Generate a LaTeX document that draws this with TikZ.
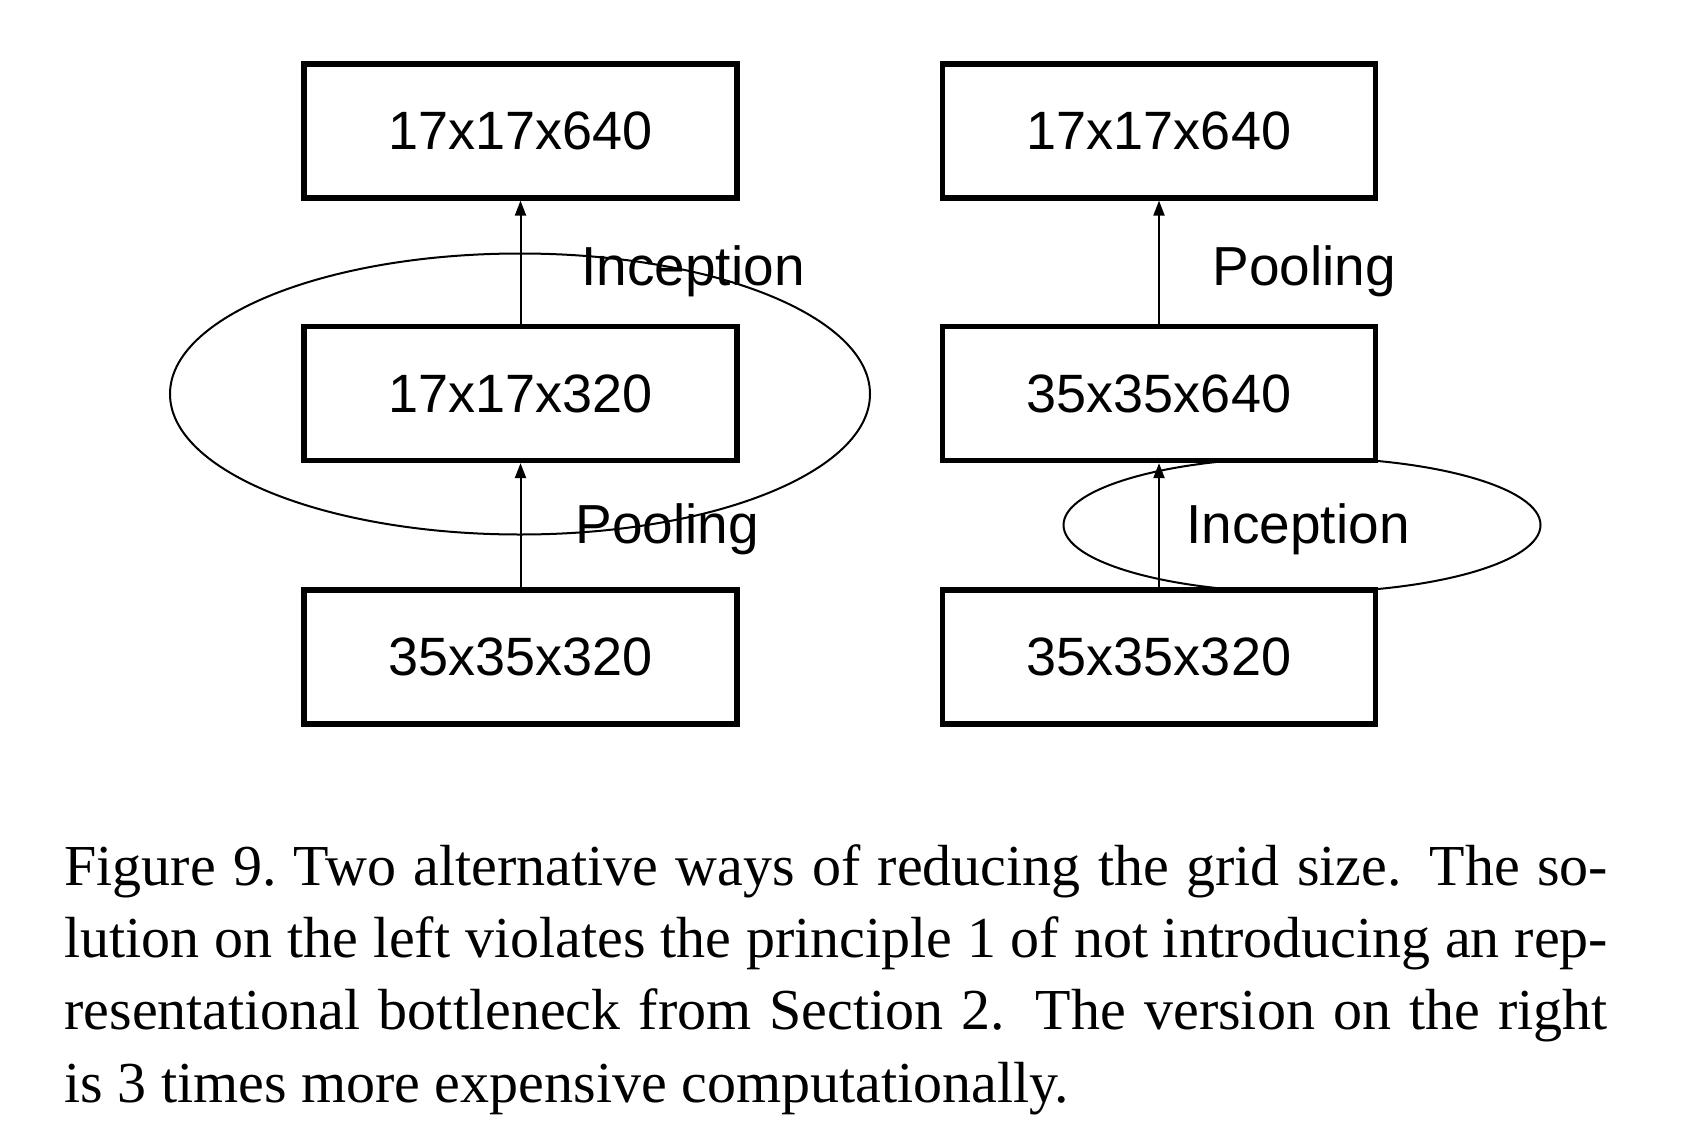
\documentclass[tikz,border=0pt]{standalone}
\usepackage{fontspec}
\setmainfont{Liberation Serif}
\newfontfamily\boxfont{Liberation Sans}
\usetikzlibrary{shapes.geometric,arrows.meta}
\begin{document}
\begin{tikzpicture}[x=0.5pt,y=-0.5pt,
  blk/.style={draw,line width=2.6pt,fill=white,minimum width=216.5pt,minimum height=67pt,inner sep=0pt,
    font=\boxfont\fontsize{27}{33}\selectfont},
  ring/.style={draw,ellipse,line width=1pt,inner sep=0pt},
  lbl/.style={inner sep=0pt,anchor=base west,font=\boxfont\fontsize{27.5}{33}\selectfont},
  conn/.style={line width=1pt,-{Triangle[length=7.5pt,width=5.5pt]}}]
\useasboundingbox (0,0) rectangle (1686,1140);
% left
\node[ring,minimum width=350pt,minimum height=140.5pt] (e1) at (520,394) {};
\node[blk] (l3) at (520.5,131) {17x17x640};
\node[blk] (l2) at (520.5,393.5) {17x17x320};
\node[blk] (l1) at (520.5,657) {35x35x320};
\draw[conn] (l1) -- (l2);
\draw[conn] (l2) -- (l3);
\node[lbl] (li) at (581,285) {Inception};
\node[lbl] (lp) at (575,543) {Pooling};
% right
\node[ring,minimum width=238.5pt,minimum height=67.5pt] (e2) at (1302,525) {};
\node[blk] (r3) at (1159,131) {17x17x640};
\node[blk] (r2) at (1159,393.5) {35x35x640};
\node[blk] (r1) at (1159,657) {35x35x320};
\draw[conn] (r1) -- (r2);
\draw[conn] (r2) -- (r3);
\node[lbl] (rp) at (1212,285) {Pooling};
\node[lbl] (ri) at (1186,543) {Inception};
% caption
\node[inner sep=0pt,anchor=base west,text width=771.75pt,align=justify,
  font=\fontsize{29}{36.2}\selectfont] (cap) at (64,885)
  {Figure 9.\ Two alternative ways of reducing the grid size. The so-\linebreak lution on the left violates the principle 1 of not introducing an rep-\linebreak resentational bottleneck from Section 2. The version on the right\linebreak is 3 times more expensive computationally.};
\end{tikzpicture}
\end{document}
